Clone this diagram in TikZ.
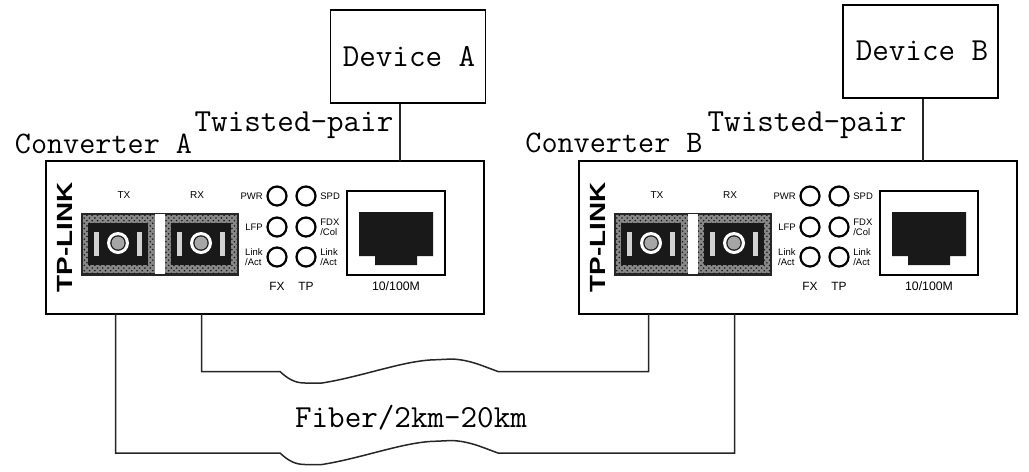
\documentclass[tikz,border=0pt]{standalone}
\usepackage{fontspec}
\setmainfont{Liberation Sans}
\setmonofont{Latin Modern Mono}
\usetikzlibrary{patterns}

\tikzset{
  box/.style={draw, line width=0.3mm, inner sep=0pt, minimum width=31mm, minimum height=18.6mm},
  converter/.style={draw, line width=0.5mm, inner sep=0pt, minimum width=87.6mm, minimum height=30.6mm},
  caption/.style={font=\ttfamily\fontsize{18.3}{20}\selectfont, anchor=base, inner sep=0pt},
  small/.style={font=\fontsize{5.4}{5.7}\selectfont, inner sep=0pt, align=left},
  panel/.style={font=\fontsize{6.8}{8}\selectfont, inner sep=0pt},
  wire/.style={line width=0.3mm, color=black!85},
  led/.style={line width=0.45mm},
}
\newcommand{\fiberwave}{.. controls +(8,7.5) and +(-10,0) .. ++(25,11.5) -- ++(17,0)
  .. controls +(38,-6) and +(-30,2) .. ++(108,-23) -- ++(22,-1)
  .. controls +(18,1) and +(-18,-6.5) .. ++(46,12.5)}

\begin{document}
\begin{tikzpicture}[x=0.02cm, y=-0.02cm]
  \useasboundingbox (0,0) rectangle (1029,471);

  \foreach \name/\sx in {A/0, B/533} {
    \begin{scope}[xshift=\sx*0.02cm]
      \node[converter] (conv\name) at (265,237.5) {};

      % logo
      \node[rotate=90, xscale=1.27, font=\bfseries\fontsize{12.5}{14}\selectfont, inner sep=0pt] (logo\name) at (65,237.5) {TP-LINK};

      % fiber ports
      \fill[black!85] (81,213) rectangle (239,276);
      \fill[gray!45!black!60] (83,215) rectangle (237,273);
      \pattern[pattern=crosshatch dots, pattern color=black!90] (83,215) rectangle (237,273);
      \fill[white] (155,214) rectangle (165,274);
      \foreach \px in {118, 201} {
        \fill[black!90] (\px-30,223) rectangle (\px+30,265);
        \fill[gray!35] (\px-24,232) rectangle (\px-19.5,256);
        \fill[gray!35] (\px+19,232) rectangle (\px+23.5,256);
        \fill[white] (\px,243) circle[radius=11];
        \fill[black!90] (\px,243) circle[radius=7.8];
        \fill[gray!70] (\px,243) circle[radius=6.5];
      }
      \node[small, font=\fontsize{5.7}{6}\selectfont] (tx\name) at (124,195) {TX};
      \node[small, font=\fontsize{5.7}{6}\selectfont] (rx\name) at (197,195) {RX};

      % leds
      \foreach \ly in {196, 227, 257} {
        \draw[led] (277,\ly) circle[radius=9.5];
        \draw[led] (306,\ly) circle[radius=9.5];
      }
      \node[small, anchor=east] (pwr\name) at (263,196) {PWR};
      \node[small, anchor=east] (lfp\name) at (263,227) {LFP};
      \node[small, anchor=east, align=left] (fxact\name) at (263,257.5) {Link\\/Act};
      \node[small, anchor=west] (spd\name) at (320,196) {SPD};
      \node[small, anchor=west] (fdx\name) at (320,227) {FDX\\/Col};
      \node[small, anchor=west] (tpact\name) at (320,257.5) {Link\\/Act};
      \node[panel] (fx\name) at (277,286) {FX};
      \node[panel] (tp\name) at (306,286) {TP};

      % rj45
      \draw[line width=0.4mm] (347,191) rectangle (445,275);
      \fill[black!90] (359,212) -- (433,212) -- (433,256) -- (417,256) -- (417,265)
        -- (375,265) -- (375,256) -- (359,256) -- cycle;
      \node[panel, font=\fontsize{7}{8}\selectfont] (speed\name) at (396,286) {10/100M};

      % wire ends
      \coordinate (tx end\name) at (115.5,314);
      \coordinate (rx end\name) at (201.5,314);
    \end{scope}
  }

  \node[box] (devA) at (408,56.5) {};
  \node[box] (devB) at (920.5,51.5) {};
  \node[caption] (devAtext) at (409,66) {Device A};
  \node[caption] (devBtext) at (922,60) {Device B};
  \node[caption] (twistA) at (294,131) {Twisted-pair};
  \node[caption] (twistB) at (807,131) {Twisted-pair};
  \node[caption, font=\ttfamily\fontsize{17.8}{20}\selectfont] (convAtext) at (103.5,153) {Converter A};
  \node[caption, font=\ttfamily\fontsize{17.8}{20}\selectfont] (convBtext) at (614,152) {Converter B};
  \node[caption] (fiber) at (411,427) {Fiber/2km-20km};

  \coordinate (topA) at (400,161);
  \coordinate (topB) at (923,161);
  \draw[wire] (topA |- devA.south) -- (topA);
  \draw[wire] (topB |- devB.south) -- (topB);

  % fibers
  \draw[wire] (rx endA) -- (rx endA |- 0,371.5) -- (280,371.5) \fiberwave -- (tx endB |- 0,371.5) -- (tx endB);
  \draw[wire] (tx endA) -- (tx endA |- 0,453) -- (280,453) \fiberwave -- (rx endB |- 0,453) -- (rx endB);
\end{tikzpicture}
\end{document}
